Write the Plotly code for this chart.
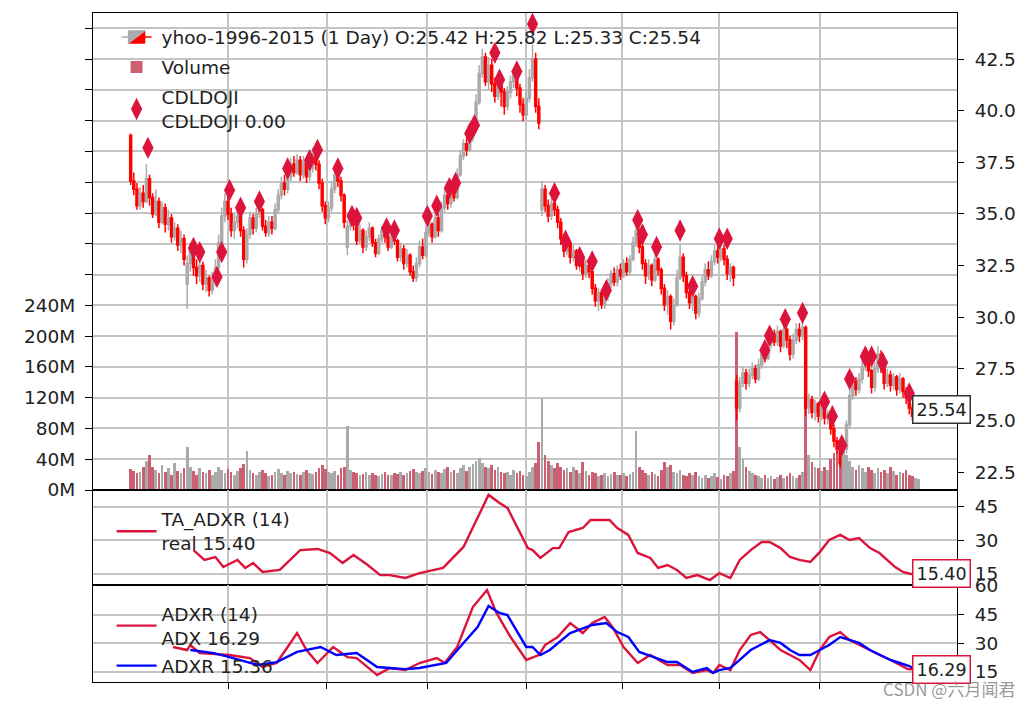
import plotly.graph_objects as go

# ---------------- data ----------------
opens = [38.8,36.6,36.2,35.4,36.0,35.6,36.7,35.8,35.0,35.6,
 34.6,35.3,34.5,34.8,33.9,34.3,33.5,33.8,31.6,32.6,
 33.3,32.4,32.0,32.5,31.6,31.9,31.3,31.8,32.4,33.6,
 34.9,35.6,35.0,34.2,34.6,34.9,34.2,32.8,34.0,34.8,
 34.3,35.0,35.2,34.4,34.1,34.6,34.3,35.2,35.9,36.5,
 36.2,36.8,37.4,37.0,37.6,36.9,37.5,36.8,37.2,37.9,
 37.4,36.5,35.4,34.8,35.3,36.2,36.9,36.6,35.9,33.4,
 34.4,34.9,34.5,33.7,34.2,33.4,33.9,34.3,33.6,33.1,
 33.8,34.2,33.9,33.4,34.0,33.7,32.9,33.3,32.6,33.0,
 32.2,31.9,32.6,33.4,33.0,34.1,34.5,33.9,34.8,34.2,
 35.3,35.9,35.5,36.2,35.8,36.9,37.8,38.4,38.1,38.7,
 39.3,40.4,41.8,42.6,41.4,42.2,41.3,40.7,41.5,40.9,
 40.2,40.9,41.4,41.9,41.1,40.3,39.8,40.6,41.6,42.5,
 40.2,35.2,36.2,35.4,34.9,35.5,35.2,34.6,33.8,33.2,
 33.6,32.9,33.2,32.5,32.8,32.1,32.5,32.2,31.4,30.8,
 31.2,30.6,31.0,31.6,32.1,31.7,32.3,32.0,32.6,32.2,
 32.8,33.6,34.2,33.4,32.6,32.0,32.5,31.8,32.8,32.3,
 31.4,30.6,31.0,29.8,30.6,31.9,32.9,32.0,31.2,30.7,
 31.0,30.2,30.9,31.7,32.3,32.0,32.7,33.2,32.9,33.3,
 32.8,32.1,32.4,26.9,25.6,26.8,27.3,26.8,27.2,27.5,
 27.0,27.7,28.2,28.0,28.7,29.2,28.8,29.3,28.6,29.4,
 28.9,28.2,28.9,29.4,29.1,29.5,25.6,26.0,25.4,25.8,
 25.2,25.6,25.1,25.3,24.6,24.0,23.6,22.9,23.6,24.8,
 26.2,26.9,26.5,27.0,27.6,27.9,27.4,26.6,27.5,28.2,
 27.6,26.8,27.2,26.7,27.1,26.5,27.0,26.4,26.1,25.6,
 25.2,25.42]
closes = [36.6,36.2,35.4,36.0,35.6,36.7,35.8,35.0,35.6,34.6,
 35.3,34.5,34.8,33.9,34.3,33.5,33.8,32.8,32.6,33.3,
 32.4,32.0,32.5,31.6,31.9,31.3,31.8,32.4,33.6,34.9,
 35.6,35.0,34.2,34.6,34.9,34.2,32.8,34.0,34.8,34.3,
 35.0,35.2,34.4,34.1,34.6,34.3,35.2,35.9,36.5,36.2,
 36.8,37.4,37.0,37.6,36.9,37.5,36.8,37.2,37.9,37.4,
 36.5,35.4,34.8,35.3,36.2,36.9,36.6,35.9,34.6,34.4,
 34.9,34.5,33.7,34.2,33.4,33.9,34.3,33.6,33.1,33.8,
 34.2,33.9,33.4,34.0,33.7,32.9,33.3,32.6,33.0,32.2,
 31.9,32.6,33.4,33.0,34.1,34.5,33.9,34.8,34.2,35.3,
 35.9,35.5,36.2,35.8,36.9,37.8,38.4,38.1,38.7,39.3,
 40.4,41.8,42.6,41.4,42.2,41.3,40.7,41.5,40.9,40.2,
 40.9,41.4,41.9,41.1,40.3,39.8,40.6,41.6,42.5,40.2,
 39.4,36.2,35.4,34.9,35.5,35.2,34.6,33.8,33.2,33.6,
 32.9,33.2,32.5,32.8,32.1,32.5,32.2,31.4,30.8,31.2,
 30.6,31.0,31.6,32.1,31.7,32.3,32.0,32.6,32.2,32.8,
 33.6,34.2,33.4,32.6,32.0,32.5,31.8,32.8,32.3,31.4,
 30.6,31.0,29.8,30.6,31.9,32.9,32.0,31.2,30.7,31.0,
 30.2,30.9,31.7,32.3,32.0,32.7,33.2,32.9,33.3,32.8,
 32.1,32.4,31.9,25.6,26.8,27.3,26.8,27.2,27.5,27.0,
 27.7,28.2,28.0,28.7,29.2,28.8,29.3,28.6,29.4,28.9,
 28.2,28.9,29.4,29.1,29.5,25.6,26.0,25.4,25.8,25.2,
 25.6,25.1,25.3,24.6,24.0,23.6,22.9,23.6,24.8,26.2,
 26.9,26.5,27.0,27.6,27.9,27.4,26.6,27.5,28.2,27.6,
 26.8,27.2,26.7,27.1,26.5,27.0,26.4,26.1,25.6,25.2,
 25.4,25.54]
highs = [38.9,37.0,36.5,36.3,36.4,37.4,36.9,36.0,36.2,35.8,
 35.6,35.5,35.2,35.0,34.6,34.5,34.2,34.0,33.0,33.6,
 33.5,32.8,32.9,32.7,32.3,32.0,32.2,32.8,34.0,35.3,
 36.0,35.9,35.3,35.0,35.2,35.0,34.4,34.3,35.1,35.0,
 35.3,35.5,35.3,34.7,34.9,34.9,35.5,36.2,36.8,36.9,
 37.1,37.7,37.8,37.9,37.8,37.8,37.6,37.5,38.2,38.0,
 37.6,36.7,35.6,35.6,36.6,37.2,37.2,36.8,36.0,34.7,
 35.1,35.0,34.7,34.5,34.3,34.2,34.6,34.4,33.8,34.0,
 34.4,34.4,34.1,34.3,34.2,33.8,33.6,33.5,33.3,33.1,
 32.5,32.9,33.7,33.8,34.4,34.8,34.6,35.1,35.0,35.6,
 36.2,36.1,36.4,36.4,37.2,38.1,38.6,38.8,38.9,39.5,
 40.8,42.2,43.0,42.8,42.6,42.5,41.6,41.8,41.7,41.1,
 41.2,41.7,42.0,42.0,41.3,40.6,41.0,42.0,43.2,42.8,
 40.6,36.6,36.4,35.7,35.8,35.9,35.4,34.8,34.0,33.8,
 33.7,33.5,33.3,33.0,32.9,32.8,32.6,32.3,31.6,31.4,
 31.3,31.3,31.9,32.3,32.4,32.5,32.6,32.8,32.9,33.0,
 33.9,34.4,34.3,33.6,32.8,32.8,32.6,33.1,32.9,32.4,
 31.6,31.3,31.1,30.9,32.3,33.5,33.1,32.2,31.4,31.1,
 31.1,31.2,32.0,32.6,32.7,33.0,33.5,33.5,33.5,33.5,
 33.0,32.6,32.5,27.2,27.1,27.6,27.5,27.5,27.8,27.7,
 28.0,28.4,28.3,29.0,29.5,29.4,29.6,29.4,29.6,29.5,
 29.1,29.2,29.7,29.7,29.8,29.6,26.3,26.2,26.0,25.9,
 25.8,25.7,25.5,25.4,24.8,24.2,23.6,23.9,25.0,26.6,
 27.1,27.1,27.3,27.9,28.1,28.2,27.5,27.8,28.6,28.4,
 27.8,27.5,27.4,27.3,27.2,27.3,27.1,26.6,26.2,25.8,
 25.6,25.82]
lows = [36.4,35.9,35.2,35.2,35.3,35.5,35.4,34.8,34.9,34.3,
 34.5,34.1,34.2,33.6,33.7,33.2,33.1,32.5,30.4,32.2,
 32.0,31.6,31.7,31.3,31.2,31.0,31.1,31.5,32.2,33.4,
 34.6,34.7,33.9,33.8,34.3,33.9,32.4,32.6,33.8,34.0,
 34.1,34.8,34.2,33.9,33.9,34.0,34.2,35.0,35.7,35.9,
 36.0,36.6,36.8,36.9,36.6,36.7,36.5,36.6,37.0,37.1,
 36.2,35.1,34.5,34.6,35.1,36.0,36.3,35.6,34.3,33.0,
 34.2,34.2,33.5,33.5,33.1,33.2,33.7,33.4,32.9,33.0,
 33.6,33.6,33.2,33.3,33.5,32.7,32.7,32.3,32.4,32.0,
 31.7,31.7,32.4,32.8,32.9,33.9,33.6,33.8,33.9,34.1,
 35.1,35.2,35.3,35.6,35.7,36.8,37.6,37.8,38.0,38.5,
 39.2,40.3,41.6,41.2,41.0,40.9,40.4,40.5,40.2,39.8,
 40.0,40.6,41.1,40.7,39.9,39.5,39.6,40.4,41.4,39.9,
 39.1,34.9,35.1,34.6,34.7,34.9,34.3,33.5,32.9,33.0,
 32.6,32.7,32.3,32.2,31.8,31.9,31.9,31.1,30.5,30.3,
 30.4,30.4,30.8,31.4,31.5,31.5,31.8,31.9,32.0,32.0,
 32.7,33.4,33.1,32.3,31.6,31.8,31.5,31.7,32.0,31.1,
 30.3,30.1,29.4,29.6,30.5,31.8,31.7,30.9,30.4,30.3,
 29.9,30.0,30.8,31.5,31.8,31.9,32.5,32.6,32.7,32.5,
 31.8,31.7,31.5,25.0,25.4,26.6,26.5,26.6,27.0,26.8,
 26.9,27.5,27.8,27.9,28.5,28.6,28.6,28.3,28.5,28.5,
 27.9,28.0,28.7,28.8,28.9,25.2,25.3,25.1,25.0,24.9,
 25.0,24.8,24.8,24.3,23.7,23.4,22.7,22.8,23.4,24.6,
 26.0,26.2,26.3,26.8,27.4,27.1,26.3,26.4,27.3,27.3,
 26.5,26.6,26.4,26.5,26.2,26.3,26.1,25.8,25.3,25.0,
 25.1,25.33]
volumes_m = [27,25,22,24,30,38,45,30,26,22,
 33,24,28,20,35,25,22,28,56,30,
 25,20,28,24,22,26,20,24,30,26,
 22,27,24,20,25,28,34,51,26,22,
 20,24,26,22,18,20,24,27,22,20,
 25,22,24,21,20,23,26,22,21,24,
 28,32,27,24,22,25,20,28,30,83,
 26,23,22,20,21,24,19,22,20,18,
 21,23,20,19,22,21,24,20,22,25,
 27,24,22,25,28,23,21,26,24,22,
 27,30,24,26,22,28,32,25,30,34,
 38,42,35,30,28,32,26,30,24,22,
 24,20,26,22,25,20,18,24,30,35,
 62,120,45,38,32,28,35,30,26,28,
 24,30,26,22,37,25,20,24,22,18,
 20,22,18,21,24,20,19,22,18,21,
 24,77,30,26,22,20,24,21,18,26,
 37,30,33,24,22,26,20,18,22,20,
 24,18,16,20,15,18,22,17,14,20,
 18,22,25,205,56,40,30,25,22,20,
 18,16,20,15,18,14,17,20,15,18,
 22,18,16,20,24,209,45,36,30,28,
 25,30,26,40,48,51,44,40,46,38,
 30,26,33,28,24,30,26,22,28,24,
 26,22,30,25,20,24,22,26,20,18,
 16,14]

# CDLDOJI markers: bar index and plotted level
doji_idx = [11,40,44,55,58,63,70,82,100,114,119,132,141,144,163,168,189,195,203,207,
            216,219,232,235,246,256,270,277,286,294,303,323,326,335,350,358,375,380,
            404,407,417,428,442,447,453,458,468,472,479,496]
doji_lvl = [38.2,33.35,33.15,31.95,33.15,36.15,35.3,35.6,37.2,37.6,38.1,37.2,34.9,34.8,34.3,34.2,34.9,35.4,36.25,36.5,
            38.9,39.3,42.8,41.5,41.9,44.2,36.0,33.7,32.9,32.7,31.3,34.7,34.0,33.4,34.2,31.5,33.8,33.8,
            28.4,29.1,29.9,30.2,25.9,25.2,23.8,27.0,28.1,28.1,27.8,26.3]

# TA_ADXR (14) real
taadxr_idx = [40,47,54,59,68,73,78,84,95,108,119,127,135,142,151,159,165,175,184,199,212,218,228,235,240,
              253,256,261,269,273,279,288,293,305,310,317,323,331,336,342,348,354,361,369,375,382,388,395,
              402,407,414,420,426,433,439,445,452,458,464,471,477,487,492,497,502]
taadxr_val = [25.7,21.3,22.6,18.1,21.3,17.7,19.9,15.9,16.8,25.7,26.2,24.4,19.9,23.5,19.0,14.5,14.5,13.2,15.4,17.7,27.1,36.0,50.4,46.8,44.6,
              26.6,25.7,22.2,26.6,26.6,33.8,35.6,39.2,39.2,35.6,32.5,24.4,22.2,17.7,19.0,16.8,13.2,14.5,12.3,15.4,13.2,21.3,25.7,
              29.3,29.3,26.6,22.6,21.3,20.4,24.8,30.2,32.5,30.2,31.1,26.6,24.4,18.1,15.9,15.0,15.40]

# ADXR (14): ADX line
adx_idx = [27,36,38,44,63,76,84,93,100,106,112,119,129,138,144,157,165,175,184,195,200,208,218,227,233,242,
           252,260,264,272,280,288,294,302,307,314,323,331,342,350,358,367,371,375,382,388,395,401,407,414,
           420,426,433,439,445,452,458,464,471,477,484,490,495,502]
adx_val = [28.1,26.5,29.1,24.9,23.9,22.3,17.6,19.7,28.1,35.4,26.5,19.7,28.1,22.8,22.3,13.4,17.1,16.0,19.7,22.3,19.7,28.1,49.0,57.9,45.9,33.3,
           21.3,23.9,29.1,33.3,40.6,35.4,40.6,43.8,38.5,28.1,19.7,23.9,18.7,18.7,14.5,16.0,14.5,18.7,16.0,26.5,34.4,35.9,31.7,26.5,
           23.9,21.3,16.0,26.5,33.3,35.9,31.7,29.1,26.5,23.9,21.3,18.7,16.6,16.29]
# ADXR (14): ADXR line
adxr_idx = [38,53,63,81,93,106,121,131,144,157,165,175,184,201,212,221,228,235,240,252,256,261,267,280,294,303,
            310,317,324,333,342,348,358,367,371,375,382,388,395,401,407,414,420,426,433,439,445,452,458,464,
            471,477,484,490,496,502]
adxr_val = [26.5,24.9,22.8,18.7,20.2,25.5,28.1,23.9,24.9,17.6,17.1,16.5,17.1,19.7,30.2,38.5,49.5,45.9,44.8,28.1,28.1,23.9,26.5,35.4,39.6,40.6,
            35.9,33.3,25.5,22.8,20.2,20.2,15.0,17.1,14.5,16.0,17.1,21.3,26.5,29.1,31.7,30.2,26.5,23.9,23.9,26.5,29.1,33.3,31.7,30.2,
            26.5,23.9,21.3,19.7,18.1,15.36]

quarter_ticks = [62, 125, 189, 252, 313, 375, 439]
price_ticks = [22.5, 25.0, 27.5, 30.0, 32.5, 35.0, 37.5, 40.0, 42.5]
vol_ticks_m = list(range(0, 601, 40))
vol_label_max_m = 240

# ---------------- styling ----------------
FONT = "DejaVu Sans"
FS = 18.5
TFS = 18.5
GRID = "#c4c4c4"
BAR_UP = "#ababab"
BAR_DN = "#ff0000"
VOL_UP = "#aaaaaa"
VOL_DN = "#cc6073"
CRIMSON = "#dc143c"

bar_idx = list(range(0, 2 * len(closes), 2))
volumes = [v * 1e6 for v in volumes_m]
vol_colors = [VOL_UP if c >= o else VOL_DN for o, c in zip(opens, closes)]

fig = go.Figure()

fig.add_trace(go.Bar(
    x=bar_idx, y=volumes, width=1.7, marker=dict(color=vol_colors, line=dict(width=0)),
    name="Volume", xaxis="x", yaxis="y", legend="legend", legendgroup="g2",
    legendrank=2, showlegend=True))

lbl = "yhoo-1996-2015 (1 Day) O:%.2f H:%.2f L:%.2f C:%.2f" % (opens[-1], highs[-1], lows[-1], closes[-1])
fig.add_trace(go.Candlestick(
    x=bar_idx, open=opens, high=highs, low=lows, close=closes,
    increasing=dict(line=dict(color=BAR_UP, width=1.5), fillcolor=BAR_UP),
    decreasing=dict(line=dict(color=BAR_DN, width=1.5), fillcolor=BAR_DN),
    whiskerwidth=0, name=lbl, xaxis="x", yaxis="y2", legend="legend",
    legendgroup="g1", legendrank=1))

fig.add_trace(go.Scatter(
    x=doji_idx, y=doji_lvl, mode="markers",
    marker=dict(symbol="diamond-tall", size=16, color=CRIMSON, line=dict(width=0)),
    name="CDLDOJI<br>CDLDOJI 0.00", xaxis="x", yaxis="y2", legend="legend",
    legendgroup="g3", legendrank=3))

fig.add_trace(go.Scatter(
    x=taadxr_idx, y=taadxr_val, mode="lines", line=dict(color=CRIMSON, width=2.4),
    name="TA_ADXR (14)<br>real %.2f" % taadxr_val[-1], xaxis="x2", yaxis="y3", legend="legend2"))

fig.add_trace(go.Scatter(
    x=adx_idx, y=adx_val, mode="lines", line=dict(color=CRIMSON, width=2.4),
    name="ADXR (14)<br>ADX %.2f" % adx_val[-1], xaxis="x3", yaxis="y4", legend="legend3",
    legendgroup="a1"))
fig.add_trace(go.Scatter(
    x=adxr_idx, y=adxr_val, mode="lines", line=dict(color="#0000ff", width=2.4),
    name="ADXR %.2f" % adxr_val[-1], xaxis="x3", yaxis="y4", legend="legend3",
    legendgroup="a2"))

XR = [-24, 526.4]
D_MAIN = [0.287, 1.0]
D_P2 = [0.145, 0.287]
D_P3 = [0.0, 0.145]
LW = 1.2

def xax(anchor, bottom):
    return dict(range=XR, anchor=anchor, tickmode="array", tickvals=quarter_ticks,
                showticklabels=False, ticks="outside" if bottom else "", ticklen=6,
                tickcolor="#000", showgrid=True, gridcolor=GRID, gridwidth=1.5,
                showline=True, linecolor="#000", linewidth=LW, mirror=True,
                zeroline=False, fixedrange=True, automargin=False,
                rangeslider=dict(visible=False))

tick_font = dict(family=FONT, size=TFS, color="#222")

fig.update_layout(
    width=1034, height=706,
    margin=dict(l=85, r=85, t=5, b=32, autoexpand=False),
    paper_bgcolor="white", plot_bgcolor="white",
    font=dict(family=FONT, size=FS, color="#222"),
    bargap=0, boxgap=0.1,
    xaxis=dict(**xax("y", False), domain=[0, 1]),
    xaxis2=dict(**xax("y3", False), domain=[0, 1], matches="x"),
    xaxis3=dict(**xax("y4", True), domain=[0, 1], matches="x"),
    yaxis=dict(domain=D_MAIN, range=[0, 620e6], side="left", anchor="x",
               tickmode="array", tickvals=[v * 1e6 for v in vol_ticks_m],
               ticktext=["%dM" % v if v <= vol_label_max_m else "" for v in vol_ticks_m],
               ticks="outside", ticklen=7, tickcolor="#000", tickfont=tick_font,
               ticklabelstandoff=6, automargin=False,
               showgrid=True, gridcolor=GRID, gridwidth=1.5, zeroline=False,
               showline=True, linecolor="#000", linewidth=LW, mirror=True),
    yaxis2=dict(domain=D_MAIN, range=[21.63, 44.73], side="right", overlaying="y", anchor="x",
                tickmode="array", tickvals=price_ticks, ticktext=["%.1f" % v for v in price_ticks],
                ticks="outside", ticklen=6, tickcolor="#000", tickfont=tick_font,
                ticklabelstandoff=7, showgrid=False, zeroline=False, automargin=False),
    yaxis3=dict(domain=D_P2, range=[10.07, 52.6], side="right", anchor="x2",
                tickmode="array", tickvals=[15, 30, 45], ticks="outside", ticklen=6,
                tickcolor="#000", tickfont=tick_font, ticklabelstandoff=7, automargin=False,
                showgrid=True, gridcolor=GRID, gridwidth=1.5, zeroline=False,
                showline=True, linecolor="#000", linewidth=LW, mirror=True),
    yaxis4=dict(domain=D_P3, range=[9.77, 60.52], side="right", anchor="x3",
                tickmode="array", tickvals=[15, 30, 45, 60], ticks="outside", ticklen=6,
                tickcolor="#000", tickfont=tick_font, ticklabelstandoff=7, automargin=False,
                showgrid=True, gridcolor=GRID, gridwidth=1.5, zeroline=False,
                showline=True, linecolor="#000", linewidth=LW, mirror=True),
    legend=dict(x=0.0215, y=0.992, xanchor="left", yanchor="top", bgcolor="rgba(0,0,0,0)",
                font=dict(family=FONT, size=FS, color="#222"), itemwidth=40,
                tracegroupgap=3, traceorder="grouped"),
    legend2=dict(x=0.0215, y=0.271, xanchor="left", yanchor="top", bgcolor="rgba(0,0,0,0)",
                 font=dict(family=FONT, size=FS, color="#222"), itemwidth=40),
    legend3=dict(x=0.0215, y=0.130, xanchor="left", yanchor="top", bgcolor="rgba(0,0,0,0)",
                 font=dict(family=FONT, size=FS, color="#222"), itemwidth=40,
                 tracegroupgap=1),
    showlegend=True,
)

def value_tag(xref, yref, yval, text, border):
    fig.add_annotation(x=bar_idx[-1], y=yval, xref=xref, yref=yref, text=text,
                       showarrow=False, xanchor="left", yanchor="middle", xshift=-7,
                       font=dict(family=FONT, size=17.5, color="#222"),
                       bgcolor="white", bordercolor=border, borderwidth=1.5, borderpad=3)

value_tag("x", "y2", closes[-1], "%.2f" % closes[-1], "#333333")
value_tag("x2", "y3", taadxr_val[-1], "%.2f" % taadxr_val[-1], CRIMSON)
value_tag("x3", "y4", adx_val[-1], "%.2f" % adx_val[-1], CRIMSON)

fig.add_annotation(x=1.0, y=-0.009, xref="paper", yref="paper", xanchor="center", yanchor="middle",
                   xshift=-8, text="CSDN @六月闻君", showarrow=False,
                   font=dict(family="Noto Sans CJK SC", size=17, color="rgba(120,120,120,0.75)"))

fig.write_html("out.html")
